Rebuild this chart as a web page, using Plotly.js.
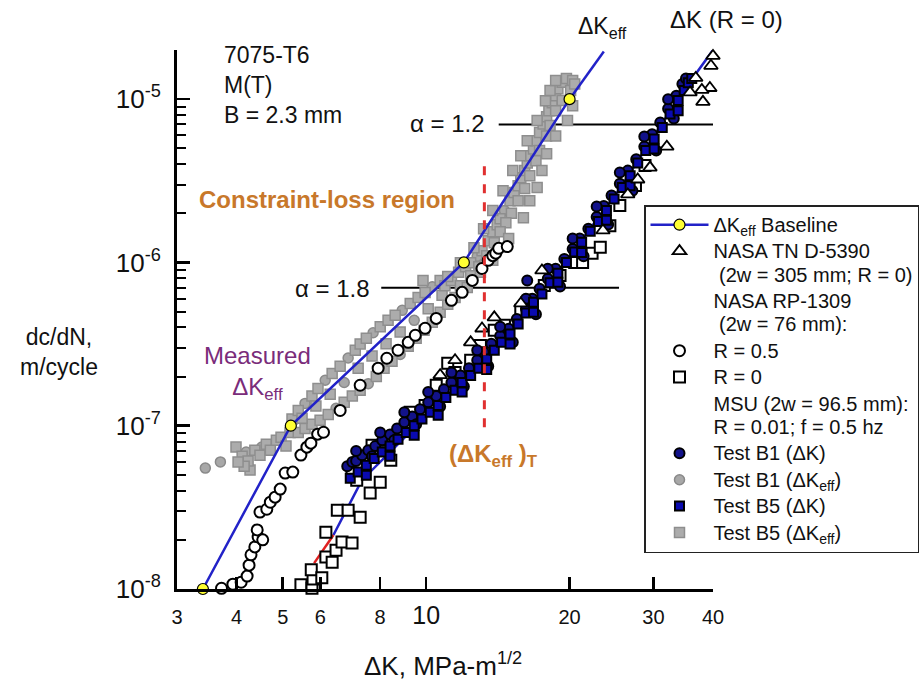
<!DOCTYPE html>
<html><head><meta charset="utf-8">
<script src="https://cdn.plot.ly/plotly-3.0.1.min.js"></script>
<style>html,body{margin:0;padding:0;background:#fff}#chart{width:924px;height:683px}</style>
</head><body><div id="chart"></div>
<script>
// ---------------- DATA ----------------
// Delta K_eff baseline (yellow points)
const baseX = [3.4, 5.2, 12.0, 20.0];
const baseY = [1e-8, 1e-7, 1e-6, 1e-5];
const baseExtX = [20.0, 23.6];
const baseExtY = [1e-5, 1.96e-5];
// Delta K (R = 0) curve
const dkLineX = [6.39, 7.33, 12.37, 18.2, 25.5, 34.1, 40.0];
const dkLineY = [2.14e-8, 4.64e-8, 2.12e-7, 7.55e-7, 2.83e-6, 1.05e-5, 2.0e-5];
const redSegX = [5.82, 6.39];
const redSegY = [1.44e-8, 2.14e-8];
// alpha reference lines and transition line
const alpha12X = [14.2, 40.0];
const alpha12Y = [7e-6, 7e-6];
const alpha18X = [8.05, 25.4];
const alpha18Y = [7e-7, 7e-7];
const transX = [13.25, 13.25];
const transY = [9.8e-8, 4.4e-6];

// NASA TN D-5390 (triangles)
const triX = [40.0,39.6,36.8,39.4,37.9,35.8,38.1,32.0,29.5,27.8,26.5,23.5,17.5,15.8,13.9,13.1,12.4,11.5,10.7];
const triY = [1.84e-5,1.60e-5,1.35e-5,1.17e-5,1.14e-5,1.10e-5,9.63e-6,5.12e-6,3.81e-6,3.22e-6,2.61e-6,1.57e-6,8.93e-7,5.61e-7,4.61e-7,3.94e-7,3.24e-7,2.52e-7,2.04e-7];

// NASA RP-1309, R = 0.5 (open circles)
const r05X = [3.72,3.93,4.09,4.21,4.25,4.29,4.37,4.44,4.54,4.42,4.48,4.63,4.71,4.82,4.94,5.06,5.25,5.46,5.62,5.73,5.92,6.09,6.60,7.27,7.93,8.27,8.73,9.17,9.49,9.95,10.5,11.3,11.9,12.5,13.1,13.5,13.8,14.0,14.2,14.8];
const r05Y = [1.01e-8,1.07e-8,1.10e-8,1.20e-8,1.40e-8,1.62e-8,1.81e-8,2.08e-8,2.0e-8,2.30e-8,2.96e-8,3.08e-8,3.40e-8,3.65e-8,4.09e-8,5.13e-8,5.20e-8,6.61e-8,7.39e-8,7.82e-8,8.88e-8,9.12e-8,1.24e-7,1.77e-7,2.25e-7,2.59e-7,2.90e-7,3.24e-7,3.58e-7,3.95e-7,4.54e-7,5.86e-7,6.56e-7,7.76e-7,9.18e-7,1.03e-6,1.10e-6,1.14e-6,1.22e-6,1.25e-6];

// NASA RP-1309, R = 0 (open squares)
const r0X = [5.46,5.76,5.79,5.74,6.04,6.16,6.35,6.47,6.66,6.99,6.16,6.51,6.86,7.27,7.63,8.01,8.43,6.99,7.15,7.70,8.20,8.82,9.26,9.95,10.5,11.1,11.5,12.4,13.0,13.9,14.6,15.8,16.5,17.7,19.1,20.5,21.3,22.3,23.2,24.3,25.5,27.5,28.8];
const r0Y = [1.06e-8,1.01e-8,1.15e-8,1.31e-8,1.17e-8,1.57e-8,1.46e-8,1.73e-8,1.94e-8,1.91e-8,2.23e-8,3.04e-8,3.04e-8,2.75e-8,3.87e-8,4.51e-8,6.15e-8,5.12e-8,4.64e-8,7.60e-8,8.15e-8,9.38e-8,1.21e-7,1.33e-7,1.77e-7,2.41e-7,2.12e-7,2.52e-7,3.10e-7,3.84e-7,4.12e-7,5.09e-7,5.86e-7,7.22e-7,8.32e-7,1.0e-6,1.0e-6,1.14e-6,1.24e-6,1.68e-6,2.23e-6,2.96e-6,3.92e-6];

// MSU Test B1 (Delta K) navy circles
const b1dkX = [6.83,7.00,7.13,7.34,7.56,7.82,8.09,8.40,8.69,9.00,9.35,9.71,10.1,10.5,10.9,11.3,11.8,12.3,12.8,13.2,13.7,14.3,14.9,15.5,16.2,16.7,17.3,18.0,18.7,19.5,20.3,21.0,21.9,22.8,23.6,24.5,25.5,26.5,27.6,28.7,29.8,31.0,32.2,33.5,34.5,35.1,16.3,
               7.70,8.57,9.53,10.7,12.0,13.5,15.2,17.0,19.1,21.4,24.1,27.1,30.4,33.1,
               7.13,8.01,9.00,10.1,11.3,12.8,14.3,16.2,18.0,20.3,22.8,25.5,28.7,32.2];
const b1dkY = [5.65e-8,6.0e-8,6.08e-8,6.6e-8,7.08e-8,7.5e-8,8.15e-8,8.85e-8,9.6e-8,1.05e-7,1.14e-7,1.26e-7,1.39e-7,1.52e-7,1.67e-7,1.84e-7,2.03e-7,2.25e-7,2.52e-7,2.83e-7,3.18e-7,3.55e-7,3.92e-7,4.5e-7,5.2e-7,5.99e-7,6.9e-7,7.95e-7,9.15e-7,1.05e-6,1.21e-6,1.40e-6,1.61e-6,1.90e-6,2.22e-6,2.57e-6,3.03e-6,3.65e-6,4.29e-6,5.12e-6,6.1e-6,7.2e-6,8.73e-6,1.05e-5,1.24e-5,1.34e-5,7.76e-7,
               6.5e-8,8.15e-8,1.02e-7,1.31e-7,1.74e-7,2.31e-7,3.24e-7,4.81e-7,7.13e-7,1.09e-6,1.71e-6,2.75e-6,4.84e-6,7.6e-6,
               6.99e-8,9.1e-8,1.21e-7,1.61e-7,2.12e-7,2.90e-7,4.04e-7,6.0e-7,9.15e-7,1.40e-6,2.2e-6,3.55e-6,5.9e-6,1.0e-5];

// MSU Test B5 (Delta K) blue squares
const b5dkX = [6.93,7.20,7.49,7.78,8.09,8.40,8.73,9.08,9.44,9.80,10.2,10.6,11.0,11.5,11.9,12.4,12.9,13.4,13.9,14.4,15.0,15.6,16.2,16.8,17.5,18.2,18.9,19.7,20.5,21.2,22.1,23.0,23.9,24.8,25.8,26.8,27.8,28.9,30.1,31.3,32.5,33.8,34.8,35.5,36.1,
               7.49,8.40,9.44,10.6,11.9,13.4,15.0,16.8,18.9,21.2,23.9,26.8,30.1,33.8];
const b5dkY = [4.77e-8,5.2e-8,5.72e-8,6.3e-8,6.9e-8,7.5e-8,8.27e-8,9.1e-8,1.0e-7,1.1e-7,1.21e-7,1.33e-7,1.49e-7,1.65e-7,1.84e-7,2.03e-7,2.25e-7,2.56e-7,2.90e-7,3.24e-7,3.65e-7,4.2e-7,4.9e-7,5.7e-7,6.4e-7,7.5e-7,8.6e-7,1.0e-6,1.16e-6,1.33e-6,1.55e-6,1.78e-6,2.08e-6,2.45e-6,2.88e-6,3.4e-6,4.07e-6,4.84e-6,5.7e-6,6.7e-6,8.1e-6,9.8e-6,1.13e-5,1.26e-5,1.34e-5,
               4.98e-8,6.5e-8,8.74e-8,1.16e-7,1.61e-7,2.21e-7,3.17e-7,4.95e-7,7.55e-7,1.15e-6,1.81e-6,2.95e-6,4.96e-6,8.5e-6];

// MSU Test B1 (Delta K_eff) gray circles
const b1effX = [3.44,3.70,4.19,4.52,5.57,6.14,6.86,7.74,8.91,10.3,6.47,7.56,8.82,12.8,14.6,6.73,9.44];
const b1effY = [5.5e-8,6.0e-8,6.9e-8,7.4e-8,1.37e-7,1.90e-7,2.60e-7,3.71e-7,5.09e-7,7.1e-7,1.28e-7,1.81e-7,2.73e-7,1.09e-6,2.08e-6,1.84e-7,4.42e-7];

// MSU Test B5 (Delta K_eff) gray squares
const b5effX = [3.99,4.11,4.27,4.23,4.37,4.48,4.62,4.71,4.85,4.96,5.08,5.18,4.15,4.03,
  5.23,5.39,5.76,5.93,6.35,6.60,7.10,7.27,7.49,8.01,8.32,8.61,9.26,9.62,9.95,10.7,
  5.39,5.57,5.76,5.99,6.23,6.73,7.00,7.27,7.86,8.16,8.48,9.17,9.53,9.90,10.3,10.7,11.1,11.5,
  5.49,5.87,6.29,7.20,7.70,8.24,8.82,10.1,10.8,
  10.95,11.3,11.7,12.1,12.4,13.1,13.5,13.8,14.1,14.3,15.0,15.3,15.6,15.8,16.1,16.3,16.5,16.8,17.0,17.3,17.6,17.9,18.1,18.4,18.7,18.9,19.3,19.7,20.3,20.1,19.3,18.7,18.2,17.9,17.3,17.0,16.5,16.1,15.6,15.1,14.7,14.3,13.9,13.4,12.9,12.4,11.8,9.85,
  11.1,11.8,12.6,13.2,13.8,14.5,15.2,15.8,16.3,17.1,17.8,18.2,18.7,
  12.2,13.0,13.8,14.9,16.0,16.5,17.1,17.5,17.9,18.7,19.8,20.3,20.5];
const b5effY = [7.4e-8,6.5e-8,5.35e-8,6.08e-8,7.08e-8,6.6e-8,7.7e-8,7.08e-8,8.15e-8,8.5e-8,7.5e-8,9.1e-8,5.65e-8,6.0e-8,
  1.1e-7,1.24e-7,1.52e-7,1.69e-7,2.09e-7,2.31e-7,2.90e-7,3.17e-7,3.43e-7,4.04e-7,4.42e-7,4.75e-7,5.6e-7,6.1e-7,6.55e-7,7.76e-7,
  9.1e-8,9.6e-8,1.02e-7,1.08e-7,1.17e-7,1.39e-7,1.52e-7,1.65e-7,2.0e-7,2.25e-7,2.48e-7,3.07e-7,3.43e-7,3.84e-7,4.3e-7,4.95e-7,5.55e-7,6.1e-7,
  1.11e-7,1.32e-7,1.56e-7,2.25e-7,2.67e-7,3.18e-7,3.75e-7,5.2e-7,6.3e-7,
  7.2e-7,7.76e-7,8.7e-7,9.4e-7,9.95e-7,1.18e-6,1.36e-6,1.54e-6,1.7e-6,1.85e-6,2.39e-6,2.68e-6,2.95e-6,3.3e-6,3.65e-6,4.07e-6,4.5e-6,4.96e-6,5.57e-6,6.25e-6,7.05e-6,7.8e-6,8.5e-6,9.5e-6,1.05e-5,1.16e-5,1.27e-5,1.34e-5,1.30e-5,1.13e-5,9.8e-6,8.5e-6,6.9e-6,5.95e-6,4.84e-6,4.2e-6,3.4e-6,2.84e-6,2.39e-6,2.0e-6,1.75e-6,1.54e-6,1.32e-6,1.1e-6,9.4e-7,8.3e-7,7.2e-7,7.76e-7,
  8.2e-7,9.95e-7,1.23e-6,1.61e-6,2.08e-6,2.75e-6,3.65e-6,4.5e-6,5.57e-6,7.39e-6,9.79e-6,1.13e-5,1.30e-5,
  7.03e-7,8.7e-7,1.03e-6,1.40e-6,1.88e-6,2.39e-6,2.88e-6,3.65e-6,4.63e-6,5.95e-6,7.39e-6,9.1e-6,1.24e-5];

// axis ticks
const xTickVals = [3, 4, 5, 6, 8, 10, 20, 30, 40];
const xTickText = ['3','4','5','6','8','<span style="font-size:25px">10</span>','20','30','40'];
const yTickVals = [1e-8, 1e-7, 1e-6, 1e-5];
const yTickText = ['10<sup>-8</sup>','10<sup>-7</sup>','10<sup>-6</sup>','10<sup>-5</sup>'];
const yMinorVals = [2e-8,3e-8,4e-8,5e-8,6e-8,7e-8,8e-8,9e-8,2e-7,3e-7,4e-7,5e-7,6e-7,7e-7,8e-7,9e-7,2e-6,3e-6,4e-6,5e-6,6e-6,7e-6,8e-6,9e-6,2e-5];

// legend labels
const S = t => '<span style="font-size:20px">' + t + '</span>';
const names = {
  base: S('ΔK<sub>eff</sub> Baseline'),
  tri: S('NASA TN D-5390') + '<br>' + S(' (2w = 305 mm; R = 0)'),
  hdr1: S('NASA RP-1309') + '<br>' + S(' (2w = 76 mm):'),
  r05: S('R = 0.5'),
  r0: S('R = 0'),
  hdr2: S('MSU (2w = 96.5 mm):') + '<br>' + S('R = 0.01; f = 0.5 hz'),
  b1dk: S('Test B1 (ΔK)'),
  b1eff: S('Test B1 (ΔK<sub>eff</sub>)'),
  b5dk: S('Test B5 (ΔK)'),
  b5eff: S('Test B5 (ΔK<sub>eff</sub>)')
};

// ---------------- CHART ----------------
const FONT = 'Liberation Sans, Arial, Helvetica, sans-serif';
const W = 924, H = 683, ML = 177, MR = 211, MT = 50, MB = 94;
const px = x => (x - ML) / (W - ML - MR);
const py = y => (H - MB - y) / (H - MT - MB);

const BLUE = '#2222c8';
const traces = [
  {x:dkLineX, y:dkLineY, mode:'lines', type:'scatter', showlegend:false, line:{color:BLUE, width:2.5}},
  {x:redSegX, y:redSegY, mode:'lines', type:'scatter', showlegend:false, line:{color:'#e02020', width:2.5}},
  {x:alpha12X, y:alpha12Y, mode:'lines', type:'scatter', showlegend:false, line:{color:'#000', width:2}},
  {x:alpha18X, y:alpha18Y, mode:'lines', type:'scatter', showlegend:false, line:{color:'#000', width:2}},
  {x:r0X, y:r0Y, name:names.r0, legendrank:5, mode:'markers', type:'scatter', cliponaxis:false,
   marker:{symbol:'square', size:11, color:'#ffffff', line:{color:'#000', width:2}}},
  {x:b1dkX, y:b1dkY, name:names.b1dk, legendrank:7, mode:'markers', type:'scatter', cliponaxis:false,
   marker:{symbol:'circle', size:10, color:'#12128a', line:{color:'#000', width:2}}},
  {x:b5dkX, y:b5dkY, name:names.b5dk, legendrank:9, mode:'markers', type:'scatter', cliponaxis:false,
   marker:{symbol:'square', size:9, color:'#0a0ab0', line:{color:'#000', width:2}}},
  {x:b1effX, y:b1effY, name:names.b1eff, legendrank:8, mode:'markers', type:'scatter', cliponaxis:false,
   marker:{symbol:'circle', size:10, color:'#a8a8a8', line:{color:'#8a8a8a', width:1.5}}},
  {x:b5effX, y:b5effY, name:names.b5eff, legendrank:10, mode:'markers', type:'scatter', cliponaxis:false,
   marker:{symbol:'square', size:10, color:'#acacac', line:{color:'#8e8e8e', width:1.5}}},
  {x:r05X, y:r05Y, name:names.r05, legendrank:4, mode:'markers', type:'scatter', cliponaxis:false,
   marker:{symbol:'circle', size:11, color:'#ffffff', line:{color:'#000', width:2}}},
  {x:triX, y:triY, name:names.tri, legendrank:2, mode:'markers', type:'scatter', cliponaxis:false,
   marker:{symbol:'triangle-up', size:12, color:'#ffffff', line:{color:'#000', width:1.8}}},
  {x:baseExtX, y:baseExtY, mode:'lines', type:'scatter', showlegend:false, line:{color:BLUE, width:2.5}},
  {x:baseX, y:baseY, name:names.base, legendrank:1, mode:'lines+markers', type:'scatter', cliponaxis:false,
   line:{color:BLUE, width:2.5}, marker:{symbol:'circle', size:11, color:'#ffff33', line:{color:'#000', width:1.2}}},
  {x:transX, y:transY, mode:'lines', type:'scatter', showlegend:false, line:{color:'#e03030', width:3, dash:'dash'}},
  {x:[null], y:[null], name:names.hdr1, legendrank:3, mode:'none', type:'scatter'},
  {x:[null], y:[null], name:names.hdr2, legendrank:6, mode:'none', type:'scatter'}
];

const ORANGE = '#c8782a';
const ann = (text, x, y, xa, ya, size, extra) => Object.assign({
  text, x: px(x), y: py(y), xref:'paper', yref:'paper', xanchor:xa, yanchor:ya,
  showarrow:false, font:{family:FONT, size:size, color:'#111'}
}, extra || {});

const layout = {
  width: W, height: H,
  margin: {l:ML, r:MR, t:MT, b:MB, autoexpand:false},
  paper_bgcolor:'#fff', plot_bgcolor:'#fff',
  showlegend:true,
  font:{family:FONT, color:'#111'},
  xaxis:{type:'log', range:[Math.log10(3), Math.log10(40)], tickmode:'array', tickvals:xTickVals, ticktext:xTickText,
    ticks:'inside', ticklen:12, tickwidth:2.5, tickcolor:'#000', showline:true, linewidth:3, linecolor:'#000',
    showgrid:false, zeroline:false, tickfont:{family:FONT, size:20, color:'#111'}, ticklabelstandoff:8, automargin:false},
  yaxis:{type:'log', range:[-8, Math.log10(2e-5)], tickmode:'array', tickvals:yTickVals, ticktext:yTickText,
    ticks:'inside', ticklen:13, tickwidth:2.5, tickcolor:'#000', showline:true, linewidth:3, linecolor:'#000',
    showgrid:false, zeroline:false, tickfont:{family:FONT, size:26, color:'#111'}, ticklabelstandoff:8, automargin:false,
    minor:{tickmode:'array', tickvals:yMinorVals, ticks:'inside', ticklen:9, tickwidth:2, tickcolor:'#000', showgrid:false}},
  legend:{x:px(644), y:py(205), xanchor:'left', yanchor:'top', bgcolor:'#fff', bordercolor:'#222', borderwidth:1.5,
    font:{family:FONT, size:18, color:'#111'}, valign:'top', itemwidth:58, traceorder:'normal', tracegroupgap:0},
  annotations:[
    ann('7075-T6<br>M(T)<br>B = 2.3 mm', 222, 85, 'left', 'middle', 23, {align:'left'}),
    ann('α = 1.2', 487, 124, 'right', 'middle', 24),
    ann('α = 1.8', 372, 288, 'right', 'middle', 24),
    ann('ΔK<sub>eff</sub>', 576, 27, 'left', 'middle', 23),
    ann('ΔK (R = 0)', 668, 20, 'left', 'middle', 24),
    ann('<b>Constraint-loss region</b>', 197, 199, 'left', 'middle', 24, {font:{family:FONT, size:24, color:ORANGE}}),
    ann('Measured<br>ΔK<sub>eff</sub>', 257, 373, 'center', 'middle', 24, {font:{family:FONT, size:24, color:'#7a2c7a'}}),
    ann('<b>(ΔK<sub>eff</sub> )<sub>T</sub></b>', 447, 455, 'left', 'middle', 24, {font:{family:FONT, size:24, color:ORANGE}}),
    ann('dc/dN,<br>m/cycle', 59, 352, 'center', 'middle', 23),
    ann('ΔK, MPa-m<sup>1/2</sup>', 362, 664, 'left', 'middle', 26)
  ]
};

Plotly.newPlot('chart', traces, layout, {displayModeBar:false, staticPlot:true});
</script></body></html>
